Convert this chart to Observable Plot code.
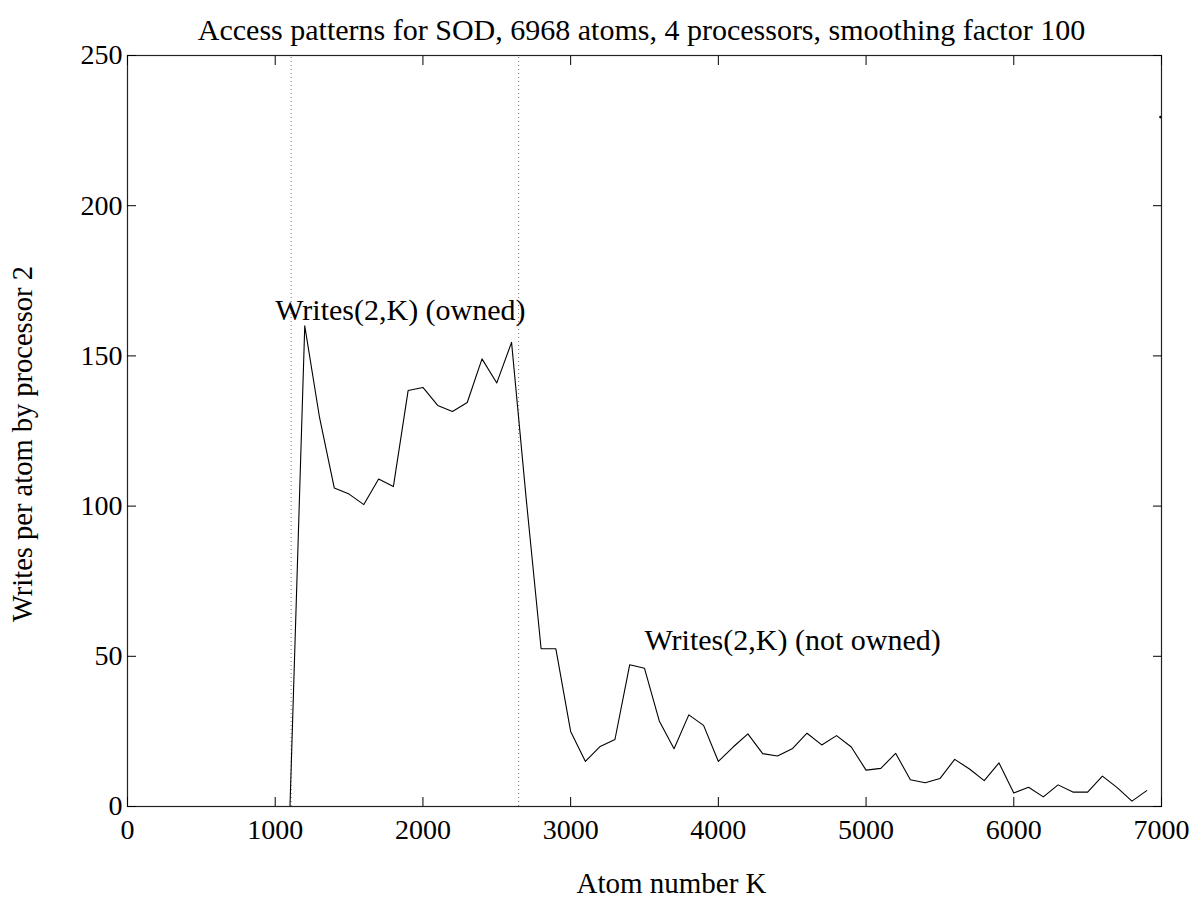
<!DOCTYPE html>
<html>
<head>
<meta charset="utf-8">
<script src="https://cdn.jsdelivr.net/npm/d3@7"></script>
<script src="https://cdn.jsdelivr.net/npm/@observablehq/plot@0.6"></script>
<style>
  html, body { margin: 0; padding: 0; background: #fff; }
  #chart svg { display: block; }
</style>
</head>
<body>
<div id="chart"></div>
<script>
// ---- data ----
const atomK = [1100, 1200, 1300, 1400, 1500, 1600, 1700, 1800, 1900, 2000,
               2100, 2200, 2300, 2400, 2500, 2600, 2700, 2800, 2900, 3000,
               3100, 3200, 3300, 3400, 3500, 3600, 3700, 3800, 3900, 4000,
               4100, 4200, 4300, 4400, 4500, 4600, 4700, 4800, 4900, 5000,
               5100, 5200, 5300, 5400, 5500, 5600, 5700, 5800, 5900, 6000,
               6100, 6200, 6300, 6400, 6500, 6600, 6700, 6800, 6900];
const writes = [0, 160, 129.5, 106, 104, 100.5, 109, 106.5, 138.5, 139.5,
                133.5, 131.5, 134.5, 149, 141, 154.5, 102, 52.5, 52.5, 25,
                15, 20, 22.3, 47.2, 46, 28.5, 19.2, 30.5, 27, 15,
                19.8, 24.2, 17.6, 16.8, 19.2, 24.4, 20.5, 23.6, 19.8, 12.1,
                12.7, 17.7, 8.9, 7.9, 9.3, 15.7, 12.5, 8.6, 14.5, 4.5,
                6.4, 3.2, 7.2, 4.8, 4.8, 10.1, 6.3, 1.8, 5.3];
const ownedBounds = [1108, 2648];
const edgeMarker = [{k: 7000, v: 229.5}];
const xTicks = [0, 1000, 2000, 3000, 4000, 5000, 6000, 7000];
const yTicks = [0, 50, 100, 150, 200, 250];
const annoText = ["Writes(2,K) (owned)", "Writes(2,K) (not owned)"];
const annoK = [1000, 3500];
const annoV = [165, 55.3];
const titleText = "Access patterns for SOD, 6968 atoms, 4 processors, smoothing factor 100";
const xLabel = "Atom number K";
const yLabel = "Writes per atom by processor 2";

const series = atomK.map((k, i) => ({k, v: writes[i]}));
const annotations = annoText.map((t, i) => ({t, k: annoK[i], v: annoV[i]}));

const FONT = "Liberation Serif, Times New Roman, serif";
const FS = 28;

const chart = Plot.plot({
  width: 1198,
  height: 909,
  marginLeft: 127,
  marginRight: 37,
  marginTop: 55,
  marginBottom: 103,
  style: {fontFamily: FONT, background: "#fff", color: "#000", overflow: "visible"},
  x: {domain: [0, 7000]},
  y: {domain: [0, 250]},
  marks: [
    // dotted ownership boundaries
    Plot.ruleX(ownedBounds, {y1: 0, y2: 250, stroke: "#777", strokeDasharray: "1,3", strokeWidth: 1}),
    // data line
    Plot.line(series, {x: "k", y: "v", stroke: "#000", strokeWidth: 1.1}),
    Plot.dot(edgeMarker, {x: "k", y: "v", r: 1.3, fill: "#000", stroke: null, dx: -1}),
    // frame
    Plot.frame({stroke: "#222", strokeWidth: 1.2}),
    // tick labels
    Plot.axisX(xTicks, {anchor: "bottom", tickSize: 0, tickPadding: 13, fontSize: FS, label: null, tickFormat: d => String(d)}),
    Plot.axisY(yTicks, {anchor: "left", tickSize: 0, tickPadding: 5, fontSize: FS, label: null, tickFormat: d => String(d)}),
    // inward ticks on all four sides
    Plot.axisX(xTicks, {anchor: "bottom", tickSize: -9, fill: "none", label: null}),
    Plot.axisX(xTicks, {anchor: "top", tickSize: -9, fill: "none", label: null}),
    Plot.axisY(yTicks, {anchor: "left", tickSize: -9, fill: "none", label: null}),
    Plot.axisY(yTicks, {anchor: "right", tickSize: -9, fill: "none", label: null}),
    // annotations
    Plot.text(annotations, {x: "k", y: "v", text: "t", textAnchor: "start", lineAnchor: "middle", fontSize: 30, fill: "#000"}),
    // title and axis labels
    Plot.text([titleText], {text: d => d, frameAnchor: "top", textAnchor: "middle", lineAnchor: "middle", dy: -25, dx: -3, fontSize: 30, fill: "#000"}),
    Plot.text([xLabel], {text: d => d, frameAnchor: "bottom", textAnchor: "middle", lineAnchor: "middle", dy: 77, dx: 27, fontSize: 29, fill: "#000"}),
    Plot.text([yLabel], {text: d => d, frameAnchor: "left", textAnchor: "middle", rotate: -90, lineAnchor: "middle", dx: -105, dy: 13, fontSize: 28.5, fill: "#000"})
  ]
});
document.getElementById("chart").appendChild(chart);
</script>
</body>
</html>
